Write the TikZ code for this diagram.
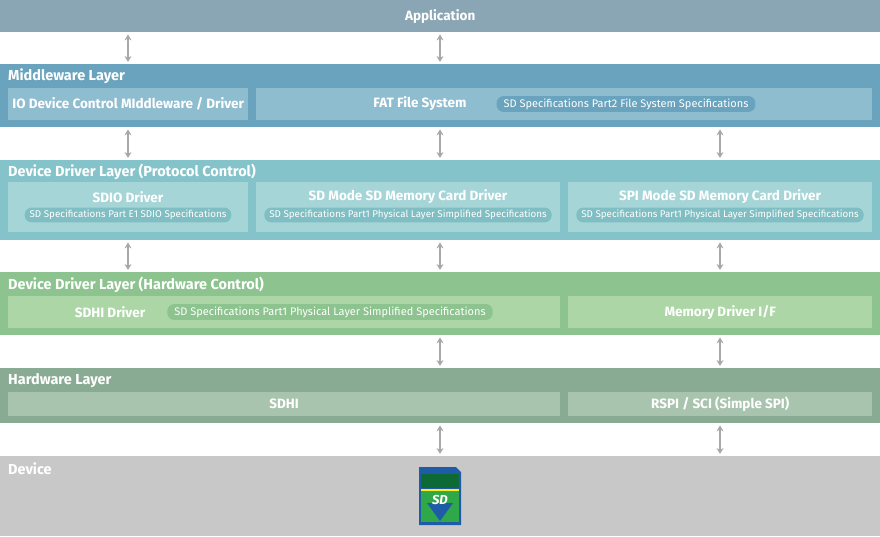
\documentclass[tikz,border=0pt]{standalone}
\usepackage{fontspec}
\setmainfont{Fira Sans}
\usetikzlibrary{positioning,arrows.meta}
\definecolor{appc}{HTML}{8AA5B3}
\definecolor{mwc}{HTML}{6AA3BD}\definecolor{mwb}{HTML}{8FBDD0}\definecolor{mwp}{HTML}{6AA3BD}
\definecolor{pcc}{HTML}{84C3C9}\definecolor{pcb}{HTML}{A6D5D8}\definecolor{pcp}{HTML}{7FBEC3}
\definecolor{hcc}{HTML}{8CC38E}\definecolor{hcb}{HTML}{ACD6A6}\definecolor{hcp}{HTML}{8CC38E}
\definecolor{hwc}{HTML}{8AAB93}\definecolor{hwb}{HTML}{A9C4AE}
\definecolor{dvc}{HTML}{C8C8C8}
\definecolor{arrc}{HTML}{A8A8A8}
\definecolor{sdblue}{HTML}{1F5CA8}\definecolor{sddark}{HTML}{0E6A35}\definecolor{sdgreen}{HTML}{2FA84A}
\tikzset{
  band/.style={fill=#1, draw=none, inner sep=0pt, anchor=north west},
  sub/.style={fill=#1, draw=none, inner sep=0pt, anchor=north west},
  ttl/.style={text=white, font=\fontsize{14.5}{16}\selectfont\bfseries, anchor=west, inner sep=0pt},
  lbl/.style={text=white, font=\fontsize{13.5}{15}\selectfont\bfseries, inner sep=0pt},
  pill/.style={fill=#1, rounded corners=7pt, text=white, font=\fontsize{11}{12}\selectfont, inner xsep=7pt, inner ysep=2.5pt},
  small/.style={font=\fontsize{9.8}{11}\selectfont, inner xsep=5pt},
  arr/.style={<->, >={Stealth[length=6pt,width=7pt]}, draw=arrc, line width=1.3pt, shorten <=2pt, shorten >=2pt}
}
\begin{document}
\begin{tikzpicture}[x=1pt,y=-1pt]
\useasboundingbox (0,0) rectangle (880,536);
% layers
\node[band=appc, minimum width=880pt, minimum height=32pt] (app) at (0,0) {};
\node[lbl] at (app.center) {Application};
\node[band=mwc, minimum width=880pt, minimum height=63pt] (mw) at (0,64) {};
\node[ttl] at (8,76) {Middleware Layer};
\node[sub=mwb, minimum width=240pt, minimum height=32pt] (io) at (8,88) {};
\node[lbl] at (io.center) {IO Device Control MIddleware / Driver};
\node[sub=mwb, minimum width=616pt, minimum height=32pt] (fat) at (256,88) {};
\node[lbl] at (420,104) {FAT File System};
\node[pill=mwp] at (626,104) {SD Specifications Part2 File System Specifications};
\node[band=pcc, minimum width=880pt, minimum height=80pt] (pc) at (0,160) {};
\node[ttl] at (8,172) {Device Driver Layer (Protocol Control)};
\node[sub=pcb, minimum width=240pt, minimum height=50pt] (sdio) at (8,182) {};
\node[lbl] at (128,197) {SDIO Driver};
\node[pill=pcp, small] at (128,215) {SD Specifications Part E1 SDIO Specifications};
\node[sub=pcb, minimum width=304pt, minimum height=50pt] (sdm) at (256,182) {};
\node[lbl] at (408,197) {SD Mode SD Memory Card Driver};
\node[pill=pcp, small] at (408,215) {SD Specifications Part1 Physical Layer Simplified Specifications};
\node[sub=pcb, minimum width=304pt, minimum height=50pt] (spim) at (568,182) {};
\node[lbl] at (720,197) {SPI Mode SD Memory Card Driver};
\node[pill=pcp, small] at (720,215) {SD Specifications Part1 Physical Layer Simplified Specifications};
\node[band=hcc, minimum width=880pt, minimum height=63pt] (hc) at (0,272) {};
\node[ttl] at (8,285) {Device Driver Layer (Hardware Control)};
\node[sub=hcb, minimum width=552pt, minimum height=32pt] (sdhid) at (8,296) {};
\node[lbl] at (110,312) {SDHI Driver};
\node[pill=hcp] at (330,312) {SD Specifications Part1 Physical Layer Simplified Specifications};
\node[sub=hcb, minimum width=304pt, minimum height=32pt] (memd) at (568,296) {};
\node[lbl] at (memd.center) {Memory Driver I/F};
\node[band=hwc, minimum width=880pt, minimum height=55pt] (hw) at (0,368) {};
\node[ttl] at (8,381) {Hardware Layer};
\node[sub=hwb, minimum width=552pt, minimum height=24pt] (sdhi) at (8,392) {};
\node[lbl] at (sdhi.center) {SDHI};
\node[sub=hwb, minimum width=304pt, minimum height=24pt] (rspi) at (568,392) {};
\node[lbl] at (rspi.center) {RSPI / SCI (Simple SPI)};
\node[band=dvc, minimum width=880pt, minimum height=80pt] (dev) at (0,456) {};
\node[ttl] at (8,469) {Device};
% arrows
\coordinate (c1) at (128,0);
\coordinate (c2) at (440,0);
\coordinate (c3) at (720,0);
\draw[arr] (app.south -| c1) -- (mw.north -| c1);
\draw[arr] (app.south -| c2) -- (mw.north -| c2);
\foreach \c in {c1,c2,c3} \draw[arr] (mw.south -| \c) -- (pc.north -| \c);
\foreach \c in {c1,c2,c3} \draw[arr] (pc.south -| \c) -- (hc.north -| \c);
\foreach \c in {c2,c3} \draw[arr] (hc.south -| \c) -- (hw.north -| \c);
\foreach \c in {c2,c3} \draw[arr] (hw.south -| \c) -- (dev.north -| \c);
% sd card
\fill[sdblue] (419,467) -- (456,467) -- (461,472) -- (461,525) -- (419,525) -- cycle;
\fill[sddark] (421,474) rectangle (459,488);
\fill[yellow] (421,488.5) rectangle (459,490.5);
\fill[sdgreen] (421,491) rectangle (459,522);
\fill[sdblue] (427,503) -- (453,503) -- (440,521) -- cycle;
\node[text=white, font=\fontsize{13}{13}\selectfont\bfseries\itshape, inner sep=0pt] (sd) at (440,500) {SD};
\end{tikzpicture}
\end{document}
